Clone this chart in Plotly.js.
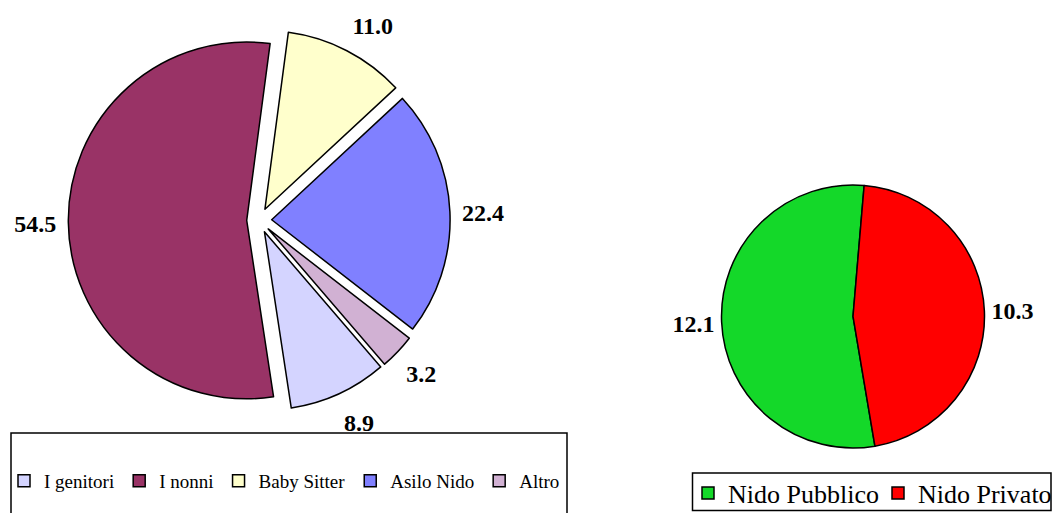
<!DOCTYPE html>
<html>
<head>
<meta charset="utf-8">
<script src="https://cdn.plot.ly/plotly-3.0.1.min.js"></script>
<style>html,body{margin:0;padding:0;background:#fff;}#chart{width:1052px;height:513px;}</style>
</head>
<body>
<div id="chart"></div>
<script>
// Left pie: chi si occupa del bambino
const careLabels = ["I genitori", "I nonni", "Baby Sitter", "Asilo Nido", "Altro"];
const careValues = [8.9, 54.5, 11.0, 22.4, 3.2];
const careColors = ["#D4D4FF", "#993366", "#FFFFCC", "#8080FF", "#D1B1D3"];

// Right pie: tipo di nido
const nidoLabels = ["Nido Pubblico", "Nido Privato"];
const nidoValues = [12.1, 10.3];
const nidoColors = ["#14D829", "#FF0000"];

const serif = "Times New Roman, Liberation Serif, DejaVu Serif, serif";
const W = 1052, H = 513;

const careDomain = {x: [0.06493, 0.42785], y: [0.19844, 0.94269]};
const careRotation = 139.3, carePull = 0.07;
const nidoDomain = {x: [0.68584, 0.93584], y: [0.12671, 0.63938]};
const nidoRotation = 170.4, nidoPull = 0;

// Data labels placed like the original (outside each slice, on its mid-angle)
function pieLabels(values, domain, rotation, pull, gx, gy, dy) {
  const w = W * (domain.x[1] - domain.x[0]);
  const h = H * (domain.y[1] - domain.y[0]);
  const r = Math.min(w, h) / (2 * (1 + pull));
  const cx = W * (domain.x[0] + domain.x[1]) / 2;
  const cy = H * (1 - (domain.y[0] + domain.y[1]) / 2);
  const total = values.reduce((a, b) => a + b, 0);
  let cum = 0;
  const xs = [], ys = [], pos = [], txt = [];
  values.forEach(v => {
    const mid = (rotation + (cum + v / 2) / total * 360) * Math.PI / 180;
    cum += v;
    const s = Math.sin(mid), c = Math.cos(mid);
    const pcx = cx + pull * r * s, pcy = cy - pull * r * c;
    xs.push(pcx + (r + gx) * s);
    ys.push(pcy - (r + gy) * c + dy);
    pos.push(s > 0.05 ? "middle right" : (s < -0.05 ? "middle left" : "middle center"));
    txt.push(v.toFixed(1));
  });
  return {xs, ys, pos, txt};
}

const cl = pieLabels(careValues, careDomain, careRotation, carePull, 12, 30, 4);
const nl = pieLabels(nidoValues, nidoDomain, nidoRotation, nidoPull, 7, 32, 3);

const labelFont = {family: serif, size: 24, color: "#000", weight: "bold"};

const traces = [
  {
    type: "pie",
    labels: careLabels,
    values: careValues,
    sort: false,
    direction: "clockwise",
    rotation: careRotation,
    pull: carePull,
    marker: {colors: careColors, line: {color: "#000", width: 1.5}},
    textinfo: "none",
    domain: careDomain,
    legend: "legend",
    showlegend: true
  },
  {
    type: "pie",
    labels: nidoLabels,
    values: nidoValues,
    sort: false,
    direction: "clockwise",
    rotation: nidoRotation,
    marker: {colors: nidoColors, line: {color: "#000", width: 1.5}},
    textinfo: "none",
    domain: nidoDomain,
    legend: "legend2",
    showlegend: true
  },
  {
    type: "scatter", mode: "text", x: cl.xs, y: cl.ys, text: cl.txt, textposition: cl.pos,
    textfont: labelFont, showlegend: false, hoverinfo: "skip", cliponaxis: false
  },
  {
    type: "scatter", mode: "text", x: nl.xs, y: nl.ys, text: nl.txt, textposition: nl.pos,
    textfont: labelFont, showlegend: false, hoverinfo: "skip", cliponaxis: false
  }
];

const layout = {
  width: W,
  height: H,
  margin: {l: 0, r: 0, t: 0, b: 0, autoexpand: false},
  paper_bgcolor: "#fff",
  plot_bgcolor: "rgba(0,0,0,0)",
  font: {family: serif, color: "#000"},
  xaxis: {range: [0, W], visible: false, fixedrange: true},
  yaxis: {range: [H, 0], visible: false, fixedrange: true},
  shapes: [
    {type: "rect", xref: "paper", yref: "paper", x0: 11/W, x1: 567/W, y0: -0.05, y1: 1 - 433/H,
     line: {color: "#000", width: 1.5}, fillcolor: "#fff", layer: "above"},
    {type: "rect", xref: "paper", yref: "paper", x0: 692.5/W, x1: 1051/W, y0: 1 - 510.5/H, y1: 1 - 473/H,
     line: {color: "#000", width: 1.5}, fillcolor: "#fff", layer: "above"}
  ],
  legend: {
    orientation: "h",
    x: 4/W, xanchor: "left",
    y: 1 - 481/H, yanchor: "middle",
    bgcolor: "rgba(0,0,0,0)", borderwidth: 0,
    font: {family: serif, size: 19, color: "#000"},
    traceorder: "normal"
  },
  legend2: {
    orientation: "h",
    x: 688/W, xanchor: "left",
    y: 1 - 493/H, yanchor: "middle",
    bgcolor: "rgba(0,0,0,0)", borderwidth: 0,
    font: {family: serif, size: 26, color: "#000"},
    entrywidth: 145, entrywidthmode: "pixels",
    traceorder: "normal"
  }
};

Plotly.newPlot("chart", traces, layout, {staticPlot: true, displayModeBar: false});
</script>
</body>
</html>
